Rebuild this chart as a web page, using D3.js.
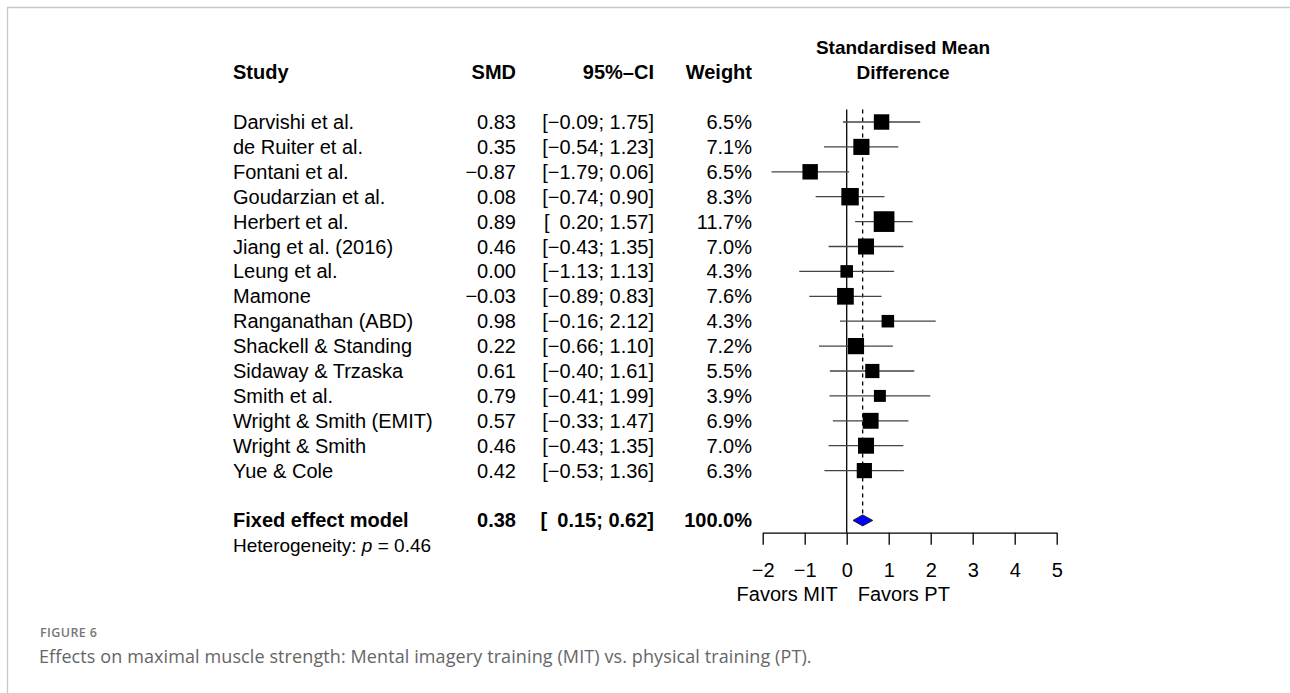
<!DOCTYPE html>
<html><head><meta charset="utf-8">
<script src="https://cdn.jsdelivr.net/npm/d3@7"></script>
<style>
html,body{margin:0;padding:0;background:#fff;}
svg{display:block;}
</style></head>
<body>
<script>
const studies = ["Darvishi et al.","de Ruiter et al.","Fontani et al.","Goudarzian et al.","Herbert et al.","Jiang et al. (2016)","Leung et al.","Mamone","Ranganathan (ABD)","Shackell & Standing","Sidaway & Trzaska","Smith et al.","Wright & Smith (EMIT)","Wright & Smith","Yue & Cole"];
const smd =   [0.83, 0.35, -0.87, 0.08, 0.89, 0.46, 0.00, -0.03, 0.98, 0.22, 0.61, 0.79, 0.57, 0.46, 0.42];
const lower = [-0.09,-0.54,-1.79,-0.74, 0.20,-0.43,-1.13,-0.89,-0.16,-0.66,-0.40,-0.41,-0.33,-0.43,-0.53];
const upper = [1.75, 1.23, 0.06, 0.90, 1.57, 1.35, 1.13, 0.83, 2.12, 1.10, 1.61, 1.99, 1.47, 1.35, 1.36];
const weights = [6.5, 7.1, 6.5, 8.3, 11.7, 7.0, 4.3, 7.6, 4.3, 7.2, 5.5, 3.9, 6.9, 7.0, 6.3];
const pooled = {label:"Fixed effect model", est:0.38, lo:0.15, hi:0.62, w:100.0};
const heterogeneityP = "0.46";
const headers = ["Study","SMD","95%\u2013CI","Weight"];
const plotTitle = ["Standardised Mean","Difference"];
const axisTicks = [-2,-1,0,1,2,3,4,5];
const favorsLabels = ["Favors MIT","Favors PT"];
const figLabel = "FIGURE 6";
const caption = "Effects on maximal muscle strength: Mental imagery training (MIT) vs. physical training (PT).";

const W = 1290, H = 693;
const svg = d3.select("body").append("svg").attr("width",W).attr("height",H);
const FONT = "'Liberation Sans', Arial, Helvetica, sans-serif";
const FS = 20;

// frame
svg.append("line").attr("x1",7).attr("x2",W).attr("y1",7.5).attr("y2",7.5).attr("stroke","#c8c8c8").attr("stroke-width",1.3);
svg.append("line").attr("x1",7.5).attr("x2",7.5).attr("y1",7).attr("y2",H).attr("stroke","#c8c8c8").attr("stroke-width",1.3);

const x = d3.scaleLinear().domain([-2,5]).range([762.7,1056.7]);
const row = d3.scaleLinear().domain([0,16]).range([122,520.4]);
const size = d3.scaleSqrt().domain([0,11.7]).range([0,20.7]);
const f2 = d3.format(".2f"), f1 = d3.format(".1f");
const ciText = (lo,hi)=>"[" + (lo>=0?"\u2002":"") + f2(lo) + "; " + f2(hi) + "]";

const colX = {study:233, smd:516, ci:654, weight:752};

const g = svg.append("g").attr("font-family",FONT).attr("font-size",FS).attr("fill","#000");

// headers
g.append("text").attr("x",colX.study).attr("y",row(-2)).attr("dy","0.35em").attr("font-weight","bold").text(headers[0]);
g.append("text").attr("x",colX.smd).attr("y",row(-2)).attr("dy","0.35em").attr("font-weight","bold").attr("text-anchor","end").text(headers[1]);
g.append("text").attr("x",colX.ci).attr("y",row(-2)).attr("dy","0.35em").attr("font-weight","bold").attr("text-anchor","end").text(headers[2]);
g.append("text").attr("x",colX.weight).attr("y",row(-2)).attr("dy","0.35em").attr("font-weight","bold").attr("text-anchor","end").text(headers[3]);
const cx = 903;
plotTitle.forEach((t,i)=>{
  g.append("text").attr("x",cx).attr("y",row(-3+i)).attr("dy","0.35em").attr("font-size",19).attr("font-weight","bold").attr("text-anchor","middle").text(t);
});

// study rows
const rows = g.selectAll("g.row").data(studies.map((s,i)=>({s,i,est:smd[i],lo:lower[i],hi:upper[i],w:weights[i]})))
  .join("g").attr("class","row");
rows.append("text").attr("x",colX.study).attr("y",d=>row(d.i)).attr("dy","0.35em").text(d=>d.s);
rows.append("text").attr("x",colX.smd).attr("y",d=>row(d.i)).attr("dy","0.35em").attr("text-anchor","end").text(d=>f2(d.est));
rows.append("text").attr("x",colX.ci).attr("y",d=>row(d.i)).attr("dy","0.35em").attr("text-anchor","end").text(d=>ciText(d.lo,d.hi));
rows.append("text").attr("x",colX.weight).attr("y",d=>row(d.i)).attr("dy","0.35em").attr("text-anchor","end").text(d=>f1(d.w)+"%");

// pooled row
const pr = 16;
g.append("text").attr("x",colX.study).attr("y",row(pr)).attr("dy","0.35em").attr("font-weight","bold").text(pooled.label);
g.append("text").attr("x",colX.smd).attr("y",row(pr)).attr("dy","0.35em").attr("font-weight","bold").attr("text-anchor","end").text(f2(pooled.est));
g.append("text").attr("x",colX.ci).attr("y",row(pr)).attr("dy","0.35em").attr("font-weight","bold").attr("text-anchor","end").text(ciText(pooled.lo,pooled.hi));
g.append("text").attr("x",colX.weight).attr("y",row(pr)).attr("dy","0.35em").attr("font-weight","bold").attr("text-anchor","end").text(f1(pooled.w)+"%");
const het = g.append("text").attr("x",colX.study).attr("y",row(17)).attr("dy","0.35em").attr("font-size",19);
het.append("tspan").text("Heterogeneity: ");
het.append("tspan").attr("font-style","italic").text("p");
het.append("tspan").text(" = " + heterogeneityP);

// reference lines
const yTop = row(-0.5);
const axisY = 532.7;
svg.append("line").attr("x1",x(0)).attr("x2",x(0)).attr("y1",yTop).attr("y2",axisY).attr("stroke","#000").attr("stroke-width",1.3);
svg.append("line").attr("x1",x(pooled.est)).attr("x2",x(pooled.est)).attr("y1",yTop).attr("y2",row(pr)-6).attr("stroke","#000").attr("stroke-width",1.3).attr("stroke-dasharray","4,4");

// CIs and squares
const marks = svg.append("g");
marks.selectAll("line.ci").data(studies.map((s,i)=>i)).join("line").attr("class","ci")
  .attr("x1",i=>x(lower[i])).attr("x2",i=>x(upper[i])).attr("y1",i=>row(i)).attr("y2",i=>row(i))
  .attr("stroke","#444").attr("stroke-width",1.3);
marks.selectAll("rect").data(studies.map((s,i)=>i)).join("rect")
  .attr("x",i=>x(smd[i])-size(weights[i])/2).attr("y",i=>row(i)-size(weights[i])/2)
  .attr("width",i=>size(weights[i])).attr("height",i=>size(weights[i]))
  .attr("fill","#000");

// diamond
const dy = 5.5;
const dpts = [[x(pooled.lo),row(pr)],[x(pooled.est),row(pr)-dy],[x(pooled.hi),row(pr)],[x(pooled.est),row(pr)+dy]];
svg.append("path").attr("d","M"+dpts.map(p=>p.join(",")).join("L")+"Z").attr("fill","#0000ff").attr("stroke","#222").attr("stroke-width",1);

// axis
const axis = d3.axisBottom(x).tickValues(axisTicks).tickSize(12).tickSizeOuter(0).tickPadding(18).tickFormat(d3.format("d"));
const ag = svg.append("g").attr("transform",`translate(0,${axisY})`).call(axis);
ag.select(".domain").attr("stroke","#000").attr("stroke-width",1.3);
ag.selectAll(".tick line").attr("stroke","#000").attr("stroke-width",1.3);
ag.selectAll(".tick text").attr("font-family",FONT).attr("font-size",FS).attr("fill","#000");

svg.append("text").attr("x",x(0)-9).attr("y",594).attr("dy","0.35em").attr("text-anchor","end").attr("font-family",FONT).attr("font-size",FS).text(favorsLabels[0]);
svg.append("text").attr("x",x(0)+11).attr("y",594).attr("dy","0.35em").attr("text-anchor","start").attr("font-family",FONT).attr("font-size",FS).text(favorsLabels[1]);

// caption
svg.append("text").attr("x",40).attr("y",637).attr("font-family","'Open Sans', Lato, sans-serif").attr("font-size",12.5).attr("font-weight",600).attr("fill","#777").attr("letter-spacing",0.4).text(figLabel);
svg.append("text").attr("x",39).attr("y",663).attr("font-family","'Open Sans', Lato, sans-serif").attr("font-size",18).attr("font-weight",400).attr("fill","#666").attr("letter-spacing",0.1).text(caption);
</script>
</body></html>
